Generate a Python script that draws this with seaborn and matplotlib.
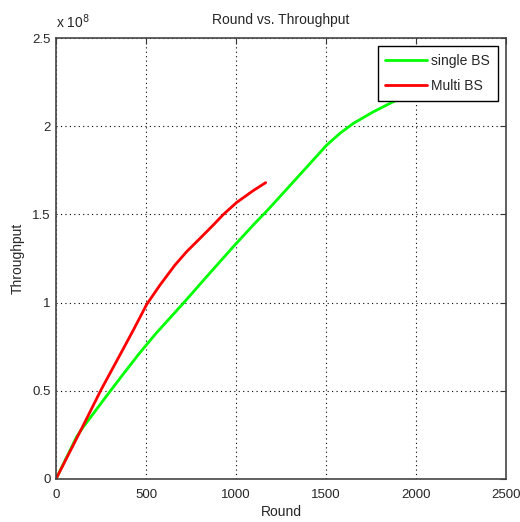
import pandas as pd
import matplotlib
matplotlib.use('Agg')
import matplotlib.pyplot as plt
import seaborn as sns

# data (throughput in units of 1e8)
round_single = [0, 115, 148, 278, 370, 463, 556, 707, 837, 985, 1096, 1180, 1328, 1504, 1578, 1652, 1760, 1874, 2000]
tp_single = [0, 0.24, 0.29, 0.467, 0.59, 0.712, 0.826, 0.996, 1.147, 1.317, 1.44, 1.529, 1.695, 1.893, 1.96, 2.016, 2.08, 2.139, 2.2]
round_multi = [0, 148, 250, 370, 430, 504, 578, 661, 726, 800, 874, 930, 1004, 1096, 1165]
tp_multi = [0, 0.297, 0.505, 0.731, 0.845, 0.99, 1.10, 1.213, 1.289, 1.364, 1.44, 1.5, 1.568, 1.635, 1.68]

sns.set_style('white')
plt.rcParams['font.family'] = ['Liberation Sans', 'DejaVu Sans']

df = pd.concat([
    pd.DataFrame({'Round': round_single, 'Throughput': tp_single, 'series': 'single BS'}),
    pd.DataFrame({'Round': round_multi, 'Throughput': tp_multi, 'series': 'Multi BS'}),
])

fig = plt.figure(figsize=(5.2, 5.22), dpi=100)
ax = fig.add_axes([0.1077, 0.0824, 0.8654, 0.8448])
sns.lineplot(data=df, x='Round', y='Throughput', hue='series', sort=False,
             palette={'single BS': '#00ff00', 'Multi BS': '#ff0000'},
             linewidth=2, ax=ax, estimator=None)

ax.set_xlim(0, 2500)
ax.set_ylim(0, 2.5)
ax.set_xticks([0, 500, 1000, 1500, 2000, 2500])
ax.set_yticks([0, 0.5, 1, 1.5, 2, 2.5])
ax.set_yticklabels(['0', '0.5', '1', '1.5', '2', '2.5'])
ax.grid(True, linestyle=(0, (1, 3)), color='black', linewidth=0.8)
ax.tick_params(direction='in', length=4, top=True, right=True, labelsize=9.5, color='#333333')
ax.tick_params(axis='x', pad=7)
ax.tick_params(axis='y', pad=4)
for sp in ax.spines.values():
    sp.set_color('#444444')
    sp.set_linewidth(1.2)

ax.set_title('Round vs. Throughput', fontsize=10, pad=10)
ax.set_xlabel('Round', fontsize=10, labelpad=3)
ax.set_ylabel('Throughput', fontsize=10, labelpad=5)
ax.text(0.0, 1.015, 'x 10$^8$', transform=ax.transAxes, fontsize=10, ha='left', va='bottom')

leg = ax.legend(loc='upper right', fontsize=10, frameon=True, fancybox=False, framealpha=1,
                handlelength=3.0, handletextpad=0.3, borderaxespad=0.6, labelspacing=0.8, borderpad=0.55)
leg.get_frame().set_edgecolor('black')
leg.get_frame().set_linewidth(1.0)

plt.savefig('out.png', dpi=100)
